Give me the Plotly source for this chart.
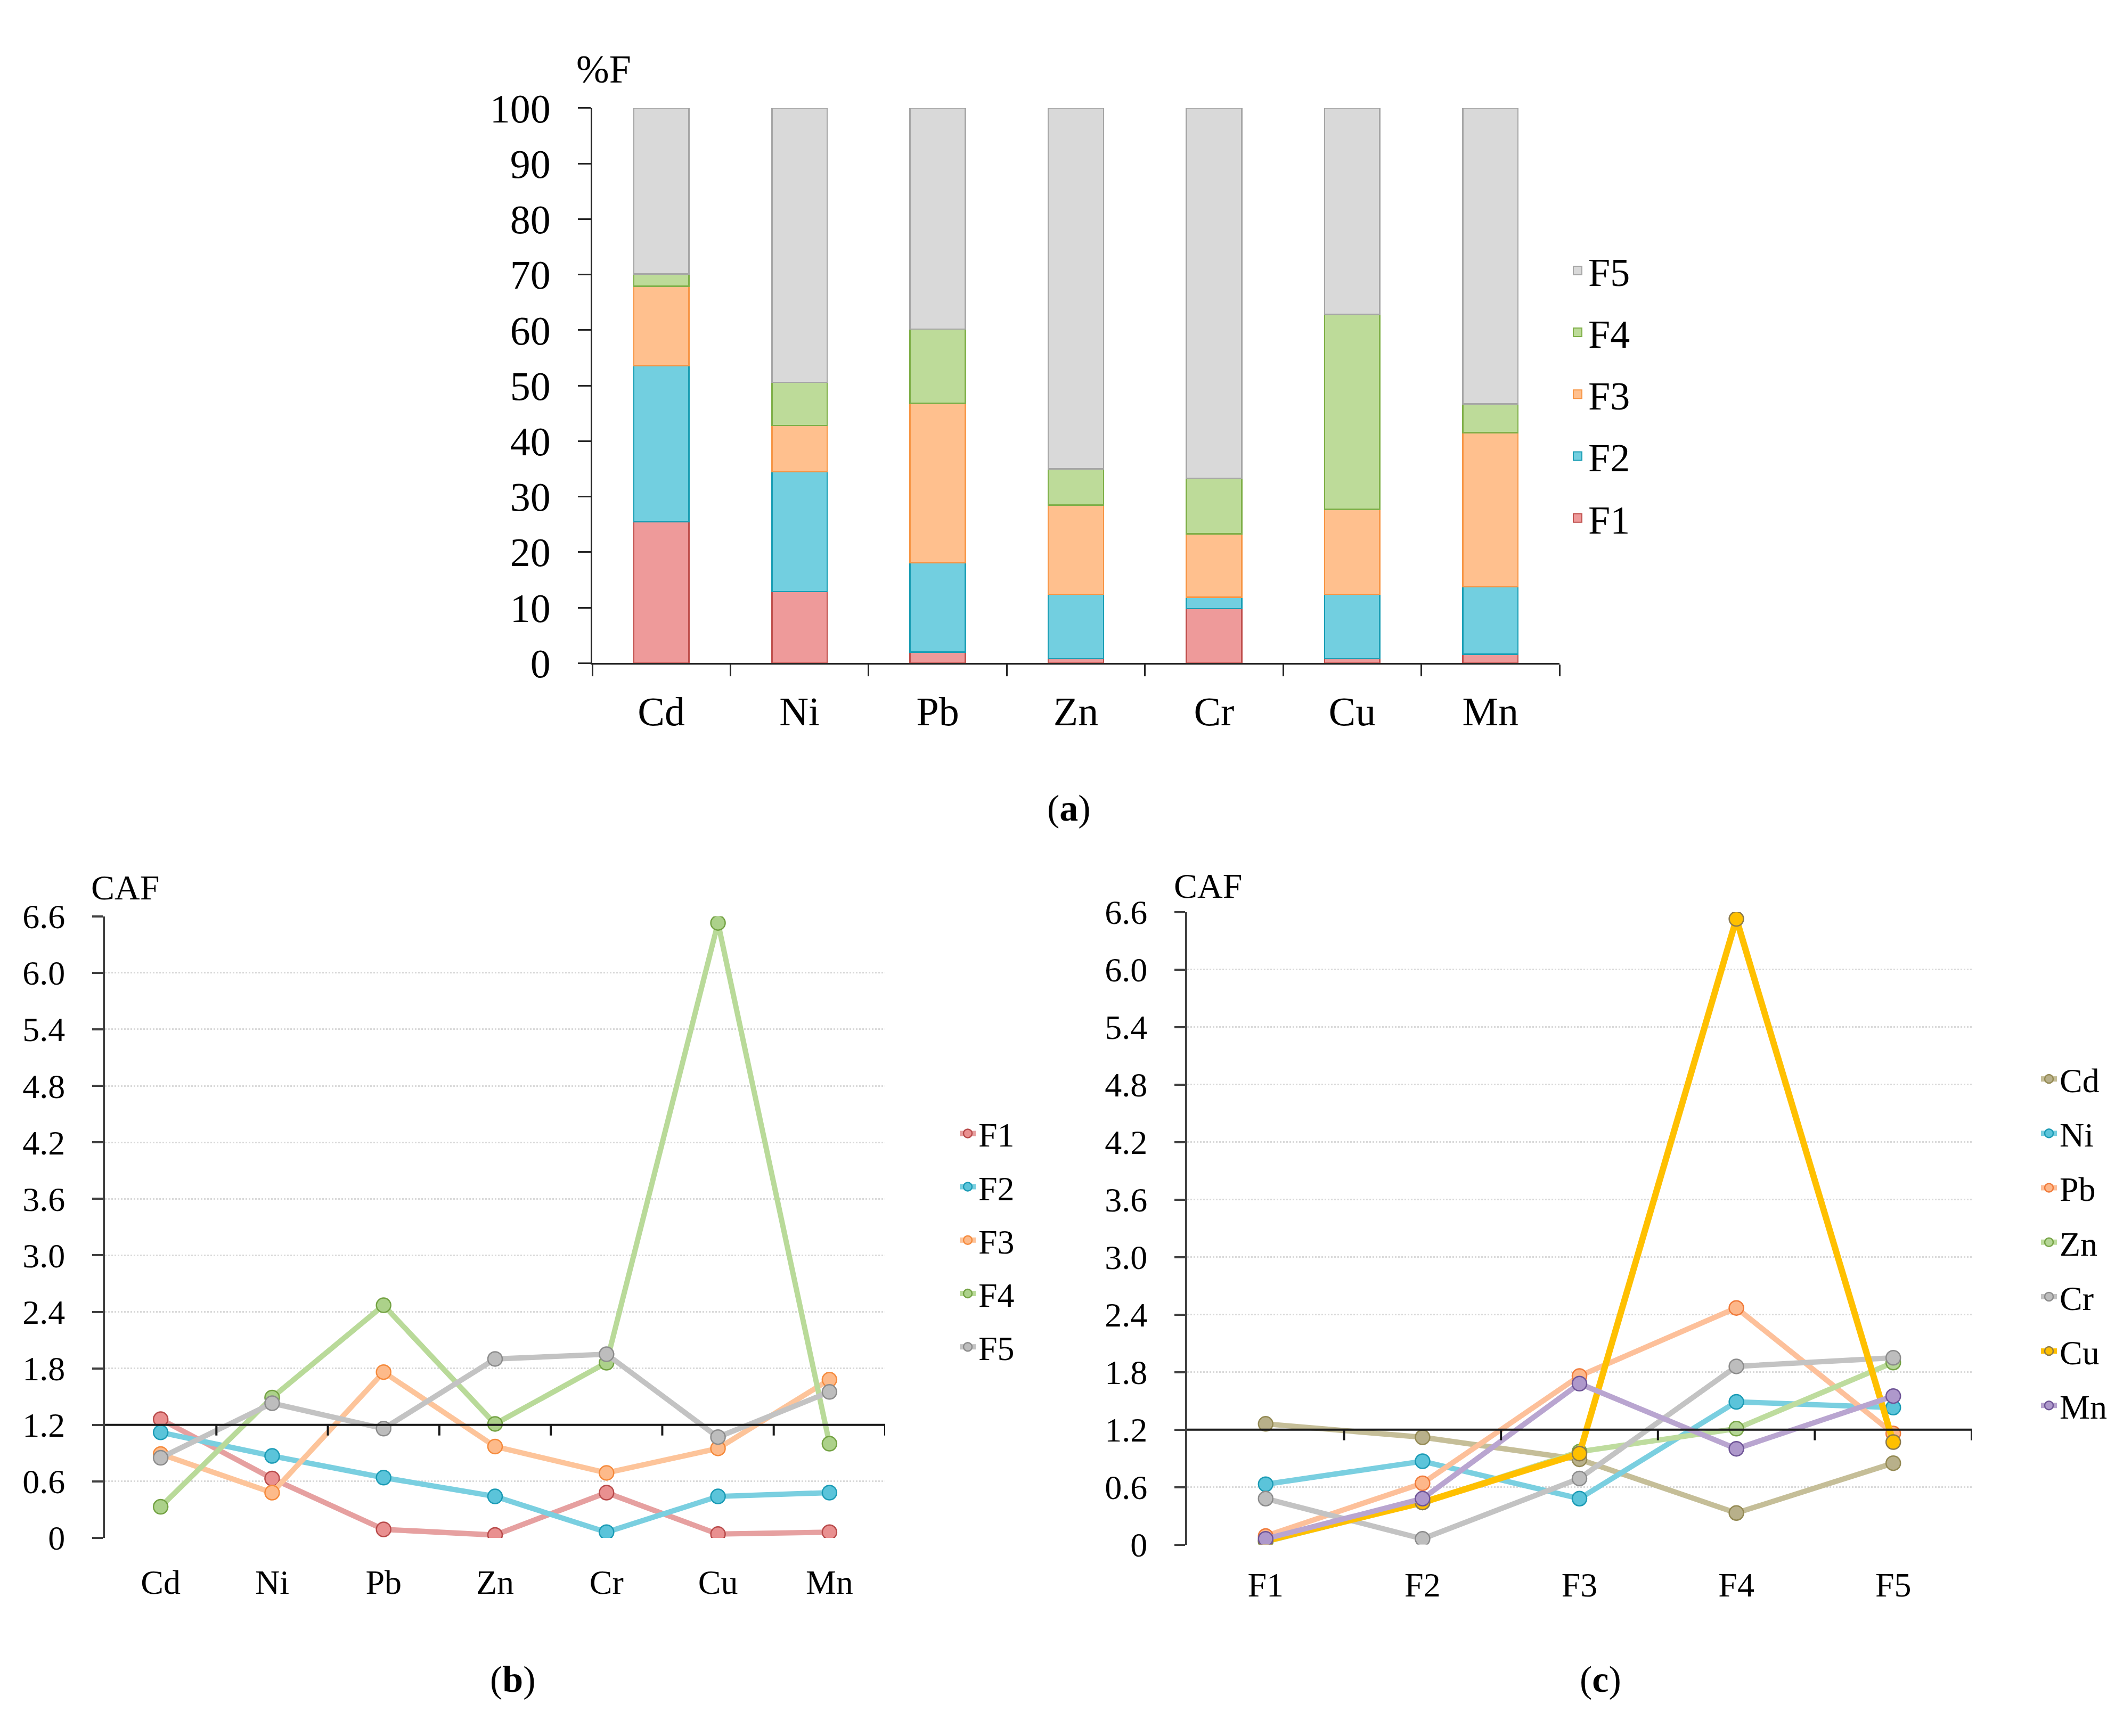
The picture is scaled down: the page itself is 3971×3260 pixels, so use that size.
import plotly.graph_objects as go

W, H = 3971, 3260

metals = ["Cd", "Ni", "Pb", "Zn", "Cr", "Cu", "Mn"]
fractions = ["F1", "F2", "F3", "F4", "F5"]

# (a) percentage of each fraction, %F
pct_F1 = [25.5, 12.9, 2.0, 0.8, 9.8, 0.8, 1.6]
pct_F2 = [28.1, 21.6, 16.1, 11.6, 2.1, 11.6, 12.2]
pct_F3 = [14.3, 8.3, 28.7, 16.1, 11.4, 15.3, 27.7]
pct_F4 = [2.2, 7.8, 13.4, 6.5, 10.0, 35.1, 5.2]
pct_F5 = [29.9, 49.4, 39.8, 65.0, 66.7, 37.2, 53.3]
pct_ticks = [0, 10, 20, 30, 40, 50, 60, 70, 80, 90, 100]

# (b)/(c) CAF of each fraction per metal
caf_F1 = [1.26, 0.63, 0.09, 0.03, 0.48, 0.04, 0.06]
caf_F2 = [1.12, 0.87, 0.64, 0.44, 0.06, 0.44, 0.48]
caf_F3 = [0.89, 0.48, 1.76, 0.97, 0.69, 0.95, 1.68]
caf_F4 = [0.33, 1.49, 2.47, 1.21, 1.86, 6.53, 1.00]
caf_F5 = [0.85, 1.43, 1.16, 1.90, 1.95, 1.07, 1.55]
caf_ticks = [0, 0.6, 1.2, 1.8, 2.4, 3.0, 3.6, 4.2, 4.8, 5.4, 6.0, 6.6]
caf_ticktext = ["0", "0.6", "1.2", "1.8", "2.4", "3.0", "3.6", "4.2", "4.8", "5.4", "6.0", "6.6"]
caf_ref = 1.2

pct = {"F1": pct_F1, "F2": pct_F2, "F3": pct_F3, "F4": pct_F4, "F5": pct_F5}
caf = {"F1": caf_F1, "F2": caf_F2, "F3": caf_F3, "F4": caf_F4, "F5": caf_F5}

# fill, outline / line, marker fill, marker outline
bar_style = {
    "F1": ("#EE9A9A", "#C0504D"),
    "F2": ("#72CFE0", "#1A9EB4"),
    "F3": ("#FFC08E", "#F79646"),
    "F4": ("#BDDB99", "#7FAF48"),
    "F5": ("#D9D9D9", "#A6A6A6"),
}
frac_line = {
    "F1": ("#E6A0A0", "#E99090", "#B84A4A"),
    "F2": ("#7ACFE0", "#5BC4DA", "#1B9BB5"),
    "F3": ("#FDC49A", "#FDBA8A", "#F58A3C"),
    "F4": ("#B9DA99", "#ACD18A", "#73A243"),
    "F5": ("#C3C3C3", "#BDBDBD", "#8C8C8C"),
}
metal_line = {
    "Cd": ("#C5BE98", "#B8B08A", "#948A54"),
    "Ni": ("#7ACFE0", "#5BC4DA", "#1B9BB5"),
    "Pb": ("#FDC09A", "#FDB78A", "#F07A3A"),
    "Zn": ("#BEDC9E", "#B5D696", "#77A447"),
    "Cr": ("#C3C3C3", "#BDBDBD", "#8C8C8C"),
    "Cu": ("#FFC000", "#FFC000", "#8C7A4C"),
    "Mn": ("#B9A5D0", "#AE98CB", "#6F5597"),
}

FONT = "Liberation Serif"


def px(x):
    return x / W


def py(y):
    return 1 - y / H


fig = go.Figure()

# (a) stacked bars
for k, f in enumerate(fractions):
    fill, edge = bar_style[f]
    fig.add_trace(go.Bar(
        x=metals, y=pct[f], name=f, width=0.4,
        marker=dict(color=fill, line=dict(color=edge, width=2.5)),
        xaxis="x", yaxis="y", showlegend=False,
    ))
    # legend entry with a larger square, F5 on top
    fig.add_trace(go.Scatter(
        x=[None], y=[None], mode="markers", name=f, legend="legend",
        marker=dict(symbol="square", size=16, color=fill, line=dict(color=edge, width=2)),
        xaxis="x", yaxis="y", legendgroup="a" + f, legendrank=len(fractions) - k,
    ))

# (b) CAF by metal, one line per fraction
for f in fractions:
    lc, mc, ec = frac_line[f]
    fig.add_trace(go.Scatter(
        x=metals, y=caf[f], name=f, mode="lines+markers",
        line=dict(color=lc, width=10),
        marker=dict(size=27, color=mc, line=dict(color=ec, width=2.5)),
        xaxis="x2", yaxis="y2", legend="legend2", legendgroup="b" + f,
    ))

# (c) CAF by fraction, one line per metal
for i, m in enumerate(metals):
    lc, mc, ec = metal_line[m]
    fig.add_trace(go.Scatter(
        x=fractions, y=[caf[f][i] for f in fractions], name=m, mode="lines+markers",
        line=dict(color=lc, width=12 if m == "Cu" else 10),
        marker=dict(size=27, color=mc, line=dict(color=ec, width=2.5)),
        xaxis="x3", yaxis="y3", legend="legend3", legendgroup="c" + m,
    ))

axis_font = dict(family=FONT, size=64, color="black")

fig.update_layout(
    width=W, height=H,
    margin=dict(l=0, r=0, t=0, b=0),
    paper_bgcolor="white", plot_bgcolor="white",
    font=dict(family=FONT, size=64, color="black"),
    barmode="stack",
    xaxis=dict(
        domain=[px(1104), px(2920)], anchor="y", type="category",
        range=[-0.5, len(metals) - 0.5],
        showline=True, linecolor="#262626", linewidth=3,
        ticks="outside", tickson="boundaries", ticklen=22, tickwidth=3, tickcolor="#262626",
        tickfont=dict(family=FONT, size=76, color="black"), ticklabelstandoff=22,
        showgrid=False, zeroline=False,
    ),
    yaxis=dict(
        domain=[py(1228), py(158)], anchor="x", range=[0, 100],
        tickvals=pct_ticks,
        showline=True, linecolor="#262626", linewidth=3,
        ticks="outside", ticklen=24, tickwidth=3, tickcolor="#262626",
        tickfont=dict(family=FONT, size=76, color="black"), ticklabelstandoff=36,
        showgrid=False, zeroline=False,
    ),
    xaxis2=dict(
        domain=[px(189), px(1654)], anchor="y2", type="category",
        range=[-0.5, len(metals) - 0.5],
        showline=False, ticks="", tickfont=axis_font, ticklabelstandoff=40,
        showgrid=False, zeroline=False,
    ),
    yaxis2=dict(
        domain=[py(2914), py(1716)], anchor="x2", range=[0, 6.6],
        tickvals=caf_ticks, ticktext=caf_ticktext,
        showline=True, linecolor="#404040", linewidth=4,
        ticks="outside", ticklen=20, tickwidth=4, tickcolor="#404040",
        tickfont=axis_font, ticklabelstandoff=38,
        showgrid=True, gridcolor="#D9D9D9", gridwidth=3, griddash="dot",
        zeroline=False,
    ),
    xaxis3=dict(
        domain=[px(2221), px(3694)], anchor="y3", type="category",
        range=[-0.5, len(fractions) - 0.5],
        showline=False, ticks="", tickfont=axis_font, ticklabelstandoff=32,
        showgrid=False, zeroline=False,
    ),
    yaxis3=dict(
        domain=[py(2927), py(1708)], anchor="x3", range=[0, 6.6],
        tickvals=caf_ticks, ticktext=caf_ticktext,
        showline=True, linecolor="#404040", linewidth=4,
        ticks="outside", ticklen=20, tickwidth=4, tickcolor="#404040",
        tickfont=axis_font, ticklabelstandoff=38,
        showgrid=True, gridcolor="#D9D9D9", gridwidth=3, griddash="dot",
        zeroline=False,
    ),
    legend=dict(
        x=px(2934), y=py(415), xanchor="left", yanchor="top",
        traceorder="grouped", tracegroupgap=17,
        font=dict(family=FONT, size=74, color="black"), bgcolor="rgba(0,0,0,0)",
    ),
    legend2=dict(
        x=px(1789), y=py(2085), xanchor="left", yanchor="top",
        traceorder="grouped", tracegroupgap=14,
        font=dict(family=FONT, size=64, color="black"), bgcolor="rgba(0,0,0,0)",
    ),
    legend3=dict(
        x=px(3819), y=py(1980), xanchor="left", yanchor="top",
        traceorder="grouped", tracegroupgap=16,
        font=dict(family=FONT, size=64, color="black"), bgcolor="rgba(0,0,0,0)",
    ),
)

# category axis of (b) and (c) crosses at CAF = 1.2
shapes = []
for xa, ya, cats in (("x2", "y2", metals), ("x3", "y3", fractions)):
    shapes.append(dict(
        type="line", xref=xa + " domain", yref=ya, x0=0, x1=1, y0=caf_ref, y1=caf_ref,
        line=dict(color="#1A1A1A", width=4),
    ))
    for i in range(len(cats)):
        shapes.append(dict(
            type="line", xref=xa, yref=ya, x0=i + 0.5, x1=i + 0.5,
            ysizemode="pixel", yanchor=caf_ref, y0=0, y1=-20,
            line=dict(color="#1A1A1A", width=4),
        ))
fig.update_layout(shapes=shapes)

notes = [
    ("%F", 1125, 83, 74),
    ("CAF", 227, 1660, 66),
    ("CAF", 2260, 1657, 66),
    ("(<b>a</b>)", 1999, 1507, 70),
    ("(<b>b</b>)", 955, 3187, 70),
    ("(<b>c</b>)", 2997, 3187, 70),
]
for text, x, y, size in notes:
    fig.add_annotation(
        text=text, xref="paper", yref="paper", x=px(x), y=py(y),
        xanchor="center", yanchor="middle", showarrow=False,
        font=dict(family=FONT, size=size, color="black"),
    )

fig.write_html("out.html")
